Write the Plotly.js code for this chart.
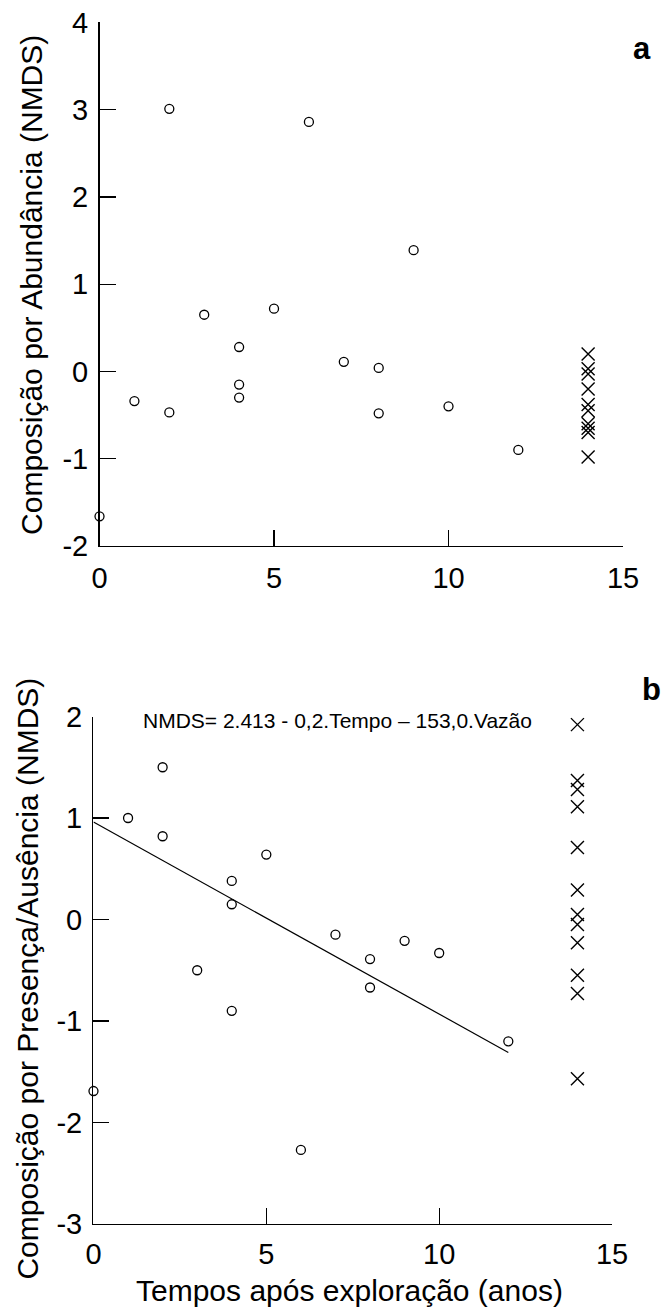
<!DOCTYPE html>
<html>
<head>
<meta charset="utf-8">
<script src="https://cdn.plot.ly/plotly-3.0.1.min.js"></script>
<style>html,body{margin:0;padding:0;background:#fff;}#chart{width:663px;height:1313px;}</style>
</head>
<body>
<div id="chart"></div>
<script>
// Panel a: composition by abundance
var timeA = [0, 1, 2, 2, 3, 4, 4, 4, 5, 6, 7, 8, 8, 9, 10, 12];
var abundA = [-1.66, -0.34, 3.01, -0.47, 0.65, 0.28, -0.15, -0.30, 0.72, 2.86, 0.11, 0.04, -0.48, 1.39, -0.40, -0.90];
var refTimeA = [14, 14, 14, 14, 14, 14, 14, 14, 14, 14];
var refAbundA = [0.20, 0.03, -0.03, -0.20, -0.38, -0.45, -0.60, -0.65, -0.70, -0.98];

// Panel b: composition by presence/absence
var timeB = [0, 1, 2, 2, 3, 4, 4, 4, 5, 6, 7, 8, 8, 9, 10, 12];
var presB = [-1.69, 1.00, 1.50, 0.82, -0.50, 0.38, 0.15, -0.90, 0.64, -2.27, -0.15, -0.39, -0.67, -0.21, -0.33, -1.20];
var refTimeB = [14, 14, 14, 14, 14, 14, 14, 14, 14, 14, 14, 14];
var refPresB = [1.92, 1.37, 1.28, 1.11, 0.71, 0.29, 0.05, -0.05, -0.23, -0.55, -0.73, -1.57];
var fitX = [0, 12];
var fitY = [0.96, -1.31];

var xTicks = [0, 5, 10, 15];
var yTicksA = [-2, -1, 0, 1, 2, 3, 4];
var yTicksB = [-3, -2, -1, 0, 1, 2];

var FONT = '"Liberation Sans", Arial, Helvetica, sans-serif';
var circ = {symbol: 'circle-open', size: 9, color: '#000', line: {color: '#000', width: 1.3}};
var cross = {symbol: 'x-thin-open', size: 13, color: '#000', line: {color: '#000', width: 1.4}};

var traces = [
  {x: timeA, y: abundA, type: 'scatter', mode: 'markers', marker: circ, xaxis: 'x', yaxis: 'y', cliponaxis: false},
  {x: refTimeA, y: refAbundA, type: 'scatter', mode: 'markers', marker: cross, xaxis: 'x', yaxis: 'y', cliponaxis: false},
  {x: timeB, y: presB, type: 'scatter', mode: 'markers', marker: circ, xaxis: 'x2', yaxis: 'y2', cliponaxis: false},
  {x: refTimeB, y: refPresB, type: 'scatter', mode: 'markers', marker: cross, xaxis: 'x2', yaxis: 'y2', cliponaxis: false},
  {x: fitX, y: fitY, type: 'scatter', mode: 'lines', line: {color: '#000', width: 1.2}, xaxis: 'x2', yaxis: 'y2'}
];

function xAx(domain, anchor, standoff) {
  return {domain: domain, anchor: anchor, range: [0, 15], tickvals: xTicks, ticktext: xTicks.map(String),
    ticks: 'inside', ticklen: 16, tickwidth: 1.2, tickcolor: '#000', showline: true, linecolor: '#000', linewidth: 1.5,
    showgrid: false, zeroline: false, tickfont: {family: FONT, size: 29, color: '#000'}, ticklabelstandoff: standoff, fixedrange: true};
}
function yAx(domain, anchor, range, vals) {
  return {domain: domain, anchor: anchor, range: range, tickvals: vals, ticktext: vals.map(String),
    ticks: 'inside', ticklen: 16, tickwidth: 1.2, tickcolor: '#000', showline: true, linecolor: '#000', linewidth: 1.5,
    showgrid: false, zeroline: false, tickfont: {family: FONT, size: 29, color: '#000'}, ticklabelstandoff: 4, fixedrange: true};
}

var layout = {
  width: 663, height: 1313,
  margin: {l: 0, r: 0, t: 0, b: 0},
  paper_bgcolor: '#fff', plot_bgcolor: '#fff',
  showlegend: false,
  font: {family: FONT, color: '#000'},
  xaxis: xAx([0.1501, 0.9397], 'y', 6),
  yaxis: yAx([0.5842, 0.9829], 'x', [-2, 4], yTicksA),
  xaxis2: xAx([0.1410, 0.9231], 'y2', 4),
  yaxis2: yAx([0.0678, 0.4543], 'x2', [-3, 2], yTicksB),
  annotations: [
    {text: 'Composição por Abundância (NMDS)', xref: 'paper', yref: 'paper', x: 0.0483, y: 0.783, textangle: -90,
     xanchor: 'center', yanchor: 'middle', showarrow: false, font: {family: FONT, size: 30, color: '#000'}},
    {text: 'Composição por Presença/Ausência (NMDS)', xref: 'paper', yref: 'paper', x: 0.0416, y: 0.2544, textangle: -90,
     xanchor: 'center', yanchor: 'middle', showarrow: false, font: {family: FONT, size: 30, color: '#000'}},
    {text: 'Tempos após exploração (anos)', xref: 'paper', yref: 'paper', x: 0.5264, y: 0.0175,
     xanchor: 'center', yanchor: 'middle', showarrow: false, font: {family: FONT, size: 30, color: '#000'}},
    {text: 'NMDS= 2.413 - 0,2.Tempo – 153,0.Vazão', xref: 'paper', yref: 'paper', x: 0.5098, y: 0.4511,
     xanchor: 'center', yanchor: 'middle', showarrow: false, font: {family: FONT, size: 21, color: '#000'}},
    {text: '<b>a</b>', xref: 'paper', yref: 'paper', x: 0.9683, y: 0.9634,
     xanchor: 'center', yanchor: 'middle', showarrow: false, font: {family: FONT, size: 31, color: '#000'}},
    {text: '<b>b</b>', xref: 'paper', yref: 'paper', x: 0.9834, y: 0.4752,
     xanchor: 'center', yanchor: 'middle', showarrow: false, font: {family: FONT, size: 31, color: '#000'}}
  ]
};

Plotly.newPlot('chart', traces, layout, {staticPlot: true, displayModeBar: false});
</script>
</body>
</html>
